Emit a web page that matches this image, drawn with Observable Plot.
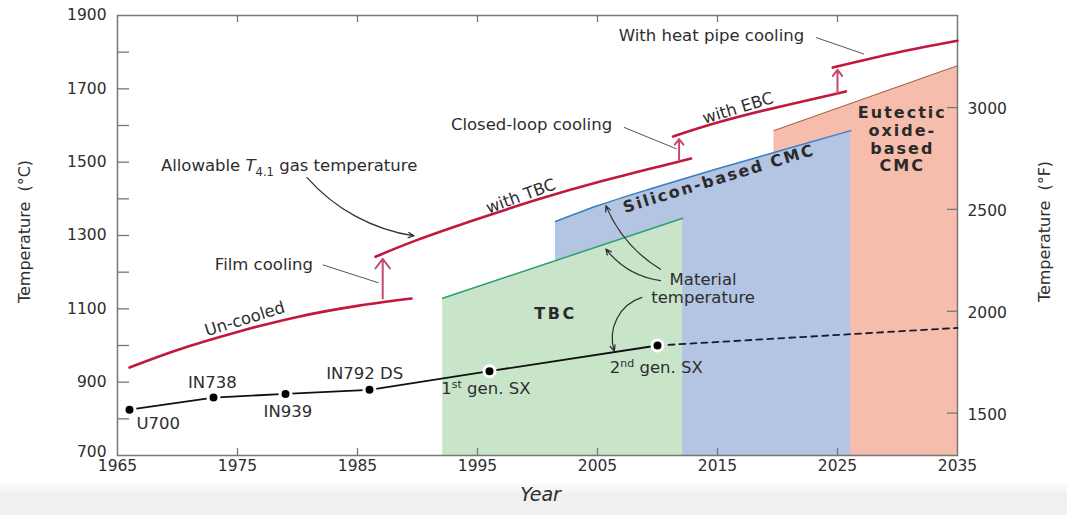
<!DOCTYPE html>
<html><head><meta charset="utf-8">
<script src="https://cdn.jsdelivr.net/npm/d3@7"></script>
<script src="https://cdn.jsdelivr.net/npm/@observablehq/plot@0.6"></script>
<style>
html,body{margin:0;padding:0}
body{width:1067px;height:515px;overflow:hidden;background:linear-gradient(to bottom,#ffffff 0px,#ffffff 482px,#efefef 495px,#f2f2f2 515px)}
</style></head><body><div id="chart"></div>
<script>
// ---------- Data ----------
const xTicks = [1965, 1975, 1985, 1995, 2005, 2015, 2025, 2035];
const xInnerTicks = [1975, 1985, 1995, 2005, 2015, 2025];
const yLabelsC = [700, 900, 1100, 1300, 1500, 1700, 1900];
const yInnerTicksC = [800, 900, 1000, 1100, 1200, 1300, 1400, 1500, 1600, 1700, 1800];
const fTicks = [1500, 2000, 2500, 3000];

const alloyNames = ["U700", "IN738", "IN939", "IN792 DS", "1st gen. SX", "2nd gen. SX"];
const alloyYears = [1966, 1973, 1979, 1986, 1996, 2010];
const alloyTemps = [825, 858, 868, 879, 930, 1000];
const alloyLabelYears = [1968.4, 1972.9, 1979.2, 1985.6, 1995.7, 2009.9];
const alloyLabelTemps = [787, 899, 820, 923, 882, 940];
const projYears = [2010, 2035];
const projTemps = [1000, 1048];

const uncooledYears = [1966, 1970, 1975, 1980, 1985, 1989.5];
const uncooledTemps = [940, 988, 1037, 1078, 1108, 1128];
const withTbcYears = [1986.5, 1990, 1995, 2000, 2005, 2010, 2012.8];
const withTbcTemps = [1242, 1288, 1345, 1398, 1445, 1487, 1510];
const withEbcYears = [2011.3, 2015, 2020, 2025.7];
const withEbcTemps = [1570, 1608, 1650, 1693];
const heatPipeYears = [2024.6, 2030, 2035];
const heatPipeTemps = [1758, 1799, 1831];

const stepYears = [1987.1, 2011.8, 2025.0];
const stepFrom = [1128, 1505, 1689];
const stepTo = [1236, 1563, 1752];

const tbcYears = [1992.1, 2012.1];
const tbcTemps = [1129, 1347];
const siliconYears = [2001.5, 2005, 2010, 2015, 2020, 2026.1];
const siliconTemps = [1338, 1381, 1433, 1482, 1529, 1586];
const eutecticYears = [2019.7, 2035];
const eutecticTemps = [1586, 1763];

const calloutTexts = ["Allowable T4.1 gas temperature", "Film cooling", "Un-cooled", "with TBC",
  "Closed-loop cooling", "with EBC", "With heat pipe cooling", "Material\ntemperature"];
const calloutYears = [1979.3, 1977.2, 1975.6, 1998.6, 1999.5, 2016.7, 2014.5, 2013.8];
const calloutTemps = [1492, 1222, 1073, 1408, 1602, 1648, 1845, 1157];
const calloutAngles = [0, 0, -17, -20, 0, -17, 0, 0];

const regionTexts = ["TBC", "Silicon-based CMC", "Eutectic\noxide-\nbased\nCMC"];
const regionYears = [2001.5, 2015.1, 2030.4];
const regionTemps = [1089, 1456, 1563];
const regionAngles = [0, -17, 0];

const leaderYears1 = [1982.1, 2007.2, 2023.2];
const leaderTemps1 = [1220, 1595, 1840];
const leaderYears2 = [1986.75, 2011.6, 2027.2];
const leaderTemps2 = [1171, 1536, 1795];

const curvedArrows = [
  {x1: 1980.8, y1: 1458, x2: 1989.7, y2: 1299, bend: -20},
  {x1: 2010.25, y1: 1208, x2: 2005.7, y2: 1381, bend: 18},
  {x1: 2010.25, y1: 1177, x2: 2005.7, y2: 1263, bend: 22},
  {x1: 2008.7, y1: 1131, x2: 2006.4, y2: 985, bend: -45}
];

// ---------- Build tables ----------
const zip = (xs, ys) => xs.map((x, i) => ({x, y: ys[i]}));
const alloys = alloyNames.map((n, i) => ({name: n, x: alloyYears[i], y: alloyTemps[i], lx: alloyLabelYears[i], ly: alloyLabelTemps[i]}));
const proj = zip(projYears, projTemps);
const uncooled = zip(uncooledYears, uncooledTemps);
const withTbc = zip(withTbcYears, withTbcTemps);
const withEbc = zip(withEbcYears, withEbcTemps);
const heatPipe = zip(heatPipeYears, heatPipeTemps);
const steps = stepYears.map((x, i) => ({x, y1: stepFrom[i], y2: stepTo[i]}));
const tbc = zip(tbcYears, tbcTemps);
const silicon = zip(siliconYears, siliconTemps);
const eutectic = zip(eutecticYears, eutecticTemps);
const callouts = calloutTexts.map((t, i) => ({t, x: calloutYears[i], y: calloutTemps[i], r: calloutAngles[i]}));
const regions = regionTexts.map((t, i) => ({t, x: regionYears[i], y: regionTemps[i], r: regionAngles[i]}));
const leaders = leaderYears1.map((x1, i) => ({x1, y1: leaderTemps1[i], x2: leaderYears2[i], y2: leaderTemps2[i]}));

const RED = "#c2173f", ARROW_RED = "#c8486e", TXT = "#2e2e2e", AX = "#777";
const W = 1067, H = 515, mL = 117, mR = 110, mT = 15, mB = 60;
const pw = W - mL - mR, ph = H - mT - mB;
const toC = f => (f - 32) * 5 / 9;

const plot = Plot.plot({
  width: W, height: H,
  marginLeft: mL, marginRight: mR, marginTop: mT, marginBottom: mB,
  x: {domain: [1965, 2035], axis: null},
  y: {domain: [700, 1900], axis: null},
  style: {fontFamily: "'DejaVu Sans', sans-serif", fontSize: "16px", color: TXT, background: "transparent", overflow: "visible"},
  marks: [
    // shaded material regions
    Plot.areaY(eutectic, {x: "x", y1: 700, y2: "y", fill: "#f6bdad"}),
    Plot.line(eutectic, {x: "x", y: "y", stroke: "#a8604c", strokeWidth: 1}),
    Plot.areaY(silicon, {x: "x", y1: 700, y2: "y", fill: "#b4c4e3", curve: "monotone-x"}),
    Plot.line(silicon, {x: "x", y: "y", stroke: "#3b80c6", strokeWidth: 1.5, curve: "monotone-x"}),
    Plot.areaY(tbc, {x: "x", y1: 700, y2: "y", fill: "#c8e5ca"}),
    Plot.line(tbc, {x: "x", y: "y", stroke: "#2c9c72", strokeWidth: 1.5}),

    // frame and ticks
    Plot.frame({stroke: AX, strokeWidth: 1.5}),
    Plot.tickX(xInnerTicks, {x: d => d, stroke: AX, strokeWidth: 1.3, insetBottom: ph - 7}),
    Plot.tickX(xInnerTicks, {x: d => d, stroke: AX, strokeWidth: 1.3, insetTop: ph - 7}),
    Plot.tickY(yInnerTicksC, {y: d => d, stroke: AX, strokeWidth: 1.3, insetRight: pw - 12}),
    Plot.tickY(fTicks, {y: toC, stroke: AX, strokeWidth: 1.3, insetLeft: pw - 10}),

    // tick labels
    Plot.text(xTicks, {x: d => d, frameAnchor: "bottom", dy: 15.5, text: d => String(d), fill: TXT, fontSize: 15.5}),
    Plot.text(yLabelsC.filter(d => d !== 700), {y: d => d, frameAnchor: "left", dx: -11, textAnchor: "end", text: d => String(d), fill: TXT, fontSize: 15.5}),
    Plot.text(yLabelsC.filter(d => d === 700), {y: d => d, frameAnchor: "left", dx: -11, dy: -3.5, textAnchor: "end", text: d => String(d), fill: TXT, fontSize: 15.5}),
    Plot.text(fTicks, {y: toC, frameAnchor: "right", dx: 10, dy: 1.5, textAnchor: "start", text: d => String(d), fill: TXT, fontSize: 15.5}),

    // axis titles
    Plot.text(["Temperature  (°C)"], {frameAnchor: "left", dx: -93, dy: -4, rotate: -90, textAnchor: "middle", fill: TXT, fontSize: 16}),
    Plot.text(["Temperature  (°F)"], {frameAnchor: "right", dx: 87, dy: -4, rotate: -90, textAnchor: "middle", fill: TXT, fontSize: 16}),
    Plot.text(["Year"], {frameAnchor: "bottom", dy: 45, dx: 3, fill: TXT, fontSize: 19, fontStyle: "italic"}),

    // allowable gas temperature
    Plot.line(uncooled, {x: "x", y: "y", stroke: RED, strokeWidth: 2.6, curve: "natural"}),
    Plot.line(withTbc, {x: "x", y: "y", stroke: RED, strokeWidth: 2.6, curve: "natural"}),
    Plot.line(withEbc, {x: "x", y: "y", stroke: RED, strokeWidth: 2.6, curve: "natural"}),
    Plot.line(heatPipe, {x: "x", y: "y", stroke: RED, strokeWidth: 2.6, curve: "natural"}),
    Plot.arrow(steps, {x: "x", y1: "y1", y2: "y2", stroke: ARROW_RED, strokeWidth: 2, headLength: 9, headAngle: 75}),

    // leaders and curved callout arrows
    Plot.link(leaders, {x1: "x1", y1: "y1", x2: "x2", y2: "y2", stroke: "#555", strokeWidth: 1}),
    ...curvedArrows.map(a => Plot.arrow([a], {x1: "x1", y1: "y1", x2: "x2", y2: "y2", bend: a.bend, stroke: "#333", strokeWidth: 1.3, headLength: 7, headAngle: 50})),

    // material temperatures
    Plot.line(proj, {x: "x", y: "y", stroke: "#1a1a2e", strokeWidth: 1.8, strokeDasharray: "6,5"}),
    Plot.line(alloys, {x: "x", y: "y", stroke: "#111", strokeWidth: 1.8}),
    Plot.dot(alloys, {x: "x", y: "y", r: 5.5, fill: "#000", stroke: "#fff", strokeWidth: 3}),
    Plot.text(alloys, {x: "lx", y: "ly", text: "name", fill: TXT, fontSize: 16.5}),

    // callouts
    Plot.text(callouts, {x: "x", y: "y", text: "t", rotate: "r", fill: TXT, fontSize: 16.5, lineHeight: 1.08}),
    Plot.text(regions, {x: "x", y: "y", text: "t", rotate: "r", fill: "#2a2a2a", fontSize: 16, fontWeight: "bold", lineHeight: 1.11})
  ]
});

document.getElementById("chart").appendChild(plot);

// ---------- text styling (super/subscripts, letter spacing) ----------
const spacing = {"TBC": "2.5px", "Silicon-based CMC": "2px", "Eutecticoxide-basedCMC": "2px"};
d3.select(plot).selectAll("text").each(function () {
  const s = this.textContent;
  const t = d3.select(this);
  if (spacing[s]) t.attr("letter-spacing", spacing[s]);
  if (s === "1st gen. SX" || s === "2nd gen. SX") {
    const sup = s.slice(1, 3), rest = s.slice(3);
    t.text(null);
    t.append("tspan").text(s[0]);
    t.append("tspan").attr("dy", -6).attr("font-size", "11px").text(sup);
    t.append("tspan").attr("dy", 6).text(rest);
  }
  if (s === "Allowable T4.1 gas temperature") {
    t.text(null);
    t.append("tspan").text("Allowable ");
    t.append("tspan").attr("font-style", "italic").text("T");
    t.append("tspan").attr("dy", 5).attr("font-size", "11.5px").text("4.1");
    t.append("tspan").attr("dy", -5).text(" gas temperature");
  }
});
</script></body></html>
